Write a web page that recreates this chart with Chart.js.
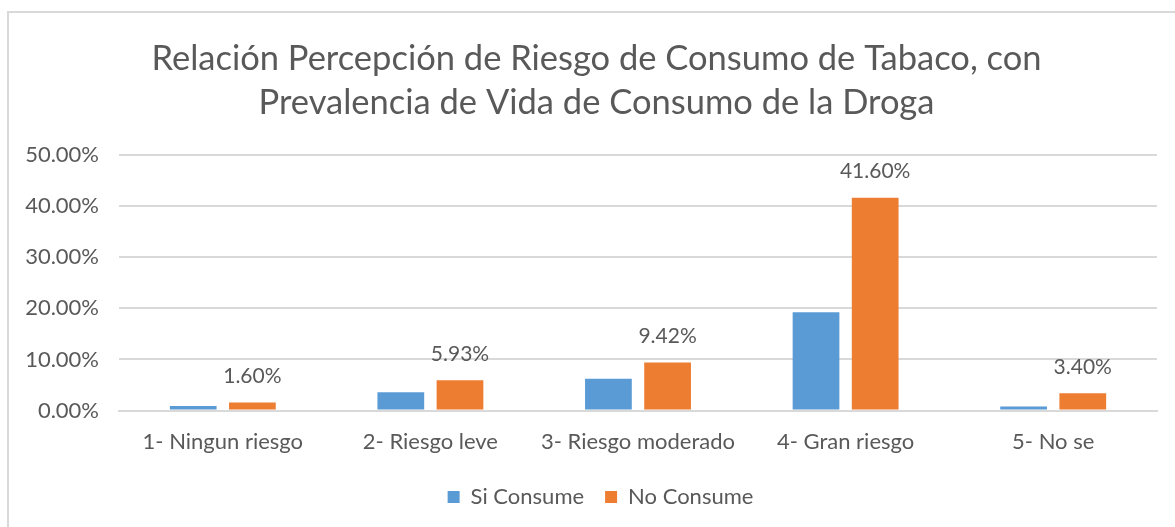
<!DOCTYPE html>
<html lang="es">
  <head>
    <meta charset="UTF-8" />
    <title>Percepción de riesgo - Tabaco</title>
    <script src="https://cdn.jsdelivr.net/npm/chart.js@4.4.0/dist/chart.umd.min.js"></script>
    <style>
      html, body { margin: 0; padding: 0; background: #fff; }
      .wrap { position: relative; width: 1175px; height: 527px; }
      .frame {
        position: absolute; left: 7px; top: 11px; right: -10px; bottom: -10px;
        border: 2px solid #d9d9d9;
      }
      canvas { position: absolute; left: 0; top: 0; }
    </style>
  </head>
  <body>
    <div class="wrap">
      <div class="frame"></div>
      <canvas id="chart" width="1175" height="527"></canvas>
    </div>

    <script>
      // datos
      const categorias = ["1- Ningun riesgo", "2- Riesgo leve", "3- Riesgo moderado", "4- Gran riesgo", "5- No se"];
      const siConsume = [0.9, 3.6, 6.2, 19.2, 0.8];
      const noConsume = [1.6, 5.93, 9.42, 41.6, 3.4];
      const ticksY = [0, 10, 20, 30, 40, 50];

      const gris = "#595959";
      const fuente = "Lato, 'Liberation Sans', sans-serif";

      // etiquetas de valor sobre las barras de "No Consume"
      const etiquetas = {
        id: "etiquetas",
        afterDatasetsDraw(chart) {
          const ctx = chart.ctx;
          const meta = chart.getDatasetMeta(1);
          ctx.save();
          ctx.font = "21px " + fuente;
          ctx.fillStyle = gris;
          ctx.textAlign = "center";
          ctx.textBaseline = "middle";
          meta.data.forEach((bar, i) => {
            ctx.fillText(noConsume[i].toFixed(2) + "%", bar.x, bar.y - 26);
          });
          ctx.restore();
        },
      };

      // centra título y leyenda en el marco, no sobre el área con el eje
      const centrar = {
        id: "centrar",
        afterLayout(chart) {
          chart.titleBlock.left += 8;
          chart.titleBlock.right += 8;
          chart.legend.left += 12;
          chart.legend.right += 12;
        },
      };

      new Chart(document.getElementById("chart"), {
        type: "bar",
        data: {
          labels: categorias,
          datasets: [
            { label: "Si Consume", data: siConsume, backgroundColor: "#5B9BD5" },
            { label: "No Consume", data: noConsume, backgroundColor: "#ED7D31" },
          ],
        },
        options: {
          responsive: false,
          animation: false,
          categoryPercentage: 0.57,
          barPercentage: 0.79,
          layout: { padding: { left: 20, right: 18, top: 0, bottom: 9 } },
          plugins: {
            title: {
              display: true,
              text: ["Relación Percepción de Riesgo de Consumo de Tabaco, con", "Prevalencia de Vida de Consumo de la Droga"],
              color: gris,
              font: { family: fuente, size: 34.5, weight: "normal", lineHeight: 1.3 },
              padding: { top: 36, bottom: 29 },
            },
            legend: {
              position: "bottom",
              labels: {
                color: gris,
                font: { family: fuente, size: 22 },
                boxWidth: 12,
                boxHeight: 12,
                padding: 21,
              },
            },
            tooltip: { enabled: false },
          },
          scales: {
            x: {
              grid: { display: false },
              border: { display: true, color: "#d9d9d9", width: 2 },
              ticks: { color: gris, font: { family: fuente, size: 22 }, padding: 10 },
            },
            y: {
              min: 0,
              max: 50,
              afterBuildTicks(axis) {
                axis.ticks = ticksY.map((v) => ({ value: v }));
              },
              afterFit(axis) {
                axis.width = 99;
              },
              grid: { color: "#d9d9d9", lineWidth: 2, drawTicks: false },
              border: { display: false },
              ticks: {
                color: gris,
                font: { family: fuente, size: 22 },
                padding: 20,
                callback: (v) => v.toFixed(2) + "%",
              },
            },
          },
        },
        plugins: [etiquetas, centrar],
      });
    </script>
  </body>
</html>
